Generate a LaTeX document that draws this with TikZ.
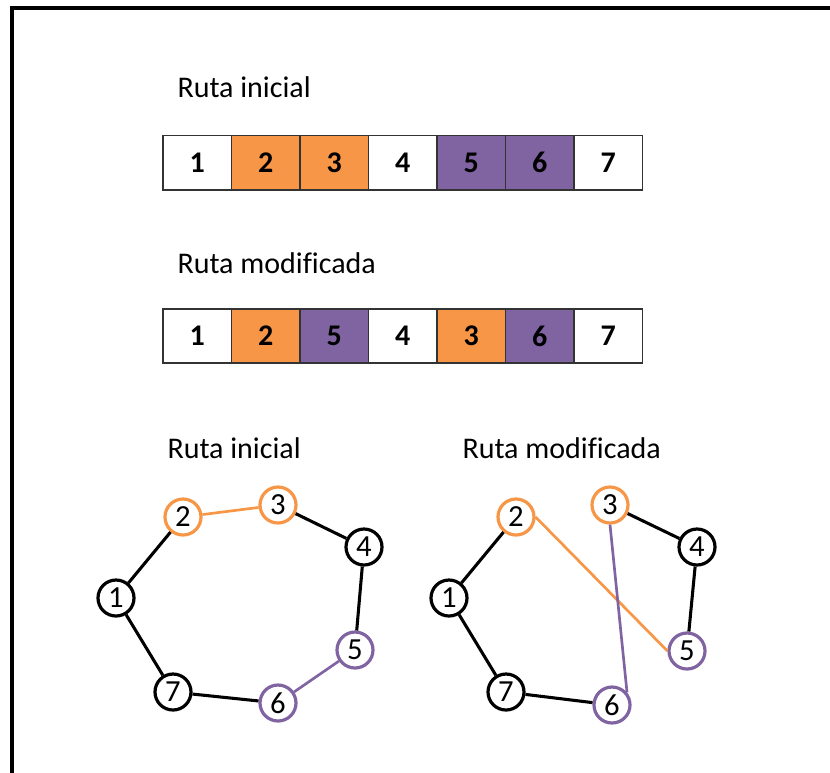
\documentclass[tikz,border=0pt]{standalone}
\usepackage{fontspec}
\setmainfont{Carlito}[Ligatures=NoCommon]

\definecolor{naranja}{RGB}{247,150,70}
\definecolor{morado}{RGB}{128,100,162}

\tikzset{every picture/.style={line width=0.75pt}}
\tikzset{
  celda/.style={draw=black!80, line width=1.2pt, minimum width=51.4pt, minimum height=40.8pt, inner sep=0pt, font=\fontsize{22.5}{27}\selectfont\bfseries},
  nodo/.style={circle, draw, line width=2.4pt, minimum size=27pt, inner sep=0pt, fill=white, font=\fontsize{23}{27}\selectfont},
  arista/.style={line width=2.3pt},
  titulo/.style={anchor=base west, inner sep=0pt, font=\fontsize{22.5}{27}\selectfont},
}

\begin{document}
\begin{tikzpicture}[x=0.75pt,y=0.75pt,yscale=-1,xscale=1]
\useasboundingbox (0,0) rectangle (830,772);

%Frame
\draw [line width=2.3pt] (12,775) -- (12,8) -- (833,8) ;

% Text Node
\node [titulo] (t1) at (177,97) {Ruta inicial};
% Text Node
\node [titulo] (t2) at (177,273) {Ruta modificada};
% Text Node
\node [titulo] (t3) at (167,458) {Ruta inicial};
% Text Node
\node [titulo] (t4) at (462,458) {Ruta modificada};

%Shape: Rectangle (ruta inicial)
\node [celda] (a1) at (197.25,162.5) {1};
\node [celda, fill=naranja] (a2) at (265.75,162.5) {2};
\node [celda, fill=naranja] (a3) at (334.25,162.5) {3};
\node [celda] (a4) at (402.75,162.5) {4};
\node [celda, fill=morado] (a5) at (471.25,162.5) {5};
\node [celda, fill=morado] (a6) at (539.75,162.5) {6};
\node [celda] (a7) at (608.25,162.5) {7};

%Shape: Rectangle (ruta modificada)
\node [celda] (b1) at (197.25,336) {1};
\node [celda, fill=naranja] (b2) at (265.75,336) {2};
\node [celda, fill=morado] (b3) at (334.25,336) {5};
\node [celda] (b4) at (402.75,336) {4};
\node [celda, fill=naranja] (b5) at (471.25,336) {3};
\node [celda, fill=morado] (b6) at (539.75,336) {6};
\node [celda] (b7) at (608.25,336) {7};

%Shape: Circle (grafo inicial)
\node [nodo] (p1) at (116,598) {1};
\node [nodo, draw=naranja] (p2) at (183,517) {2};
\node [nodo, draw=naranja] (p3) at (278,505) {3};
\node [nodo] (p4) at (364,547) {4};
\node [nodo, draw=morado] (p5) at (355,650) {5};
\node [nodo, draw=morado] (p6) at (278,703) {6};
\node [nodo] (p7) at (173,692) {7};

%Shape: Circle (grafo modificado)
\node [nodo] (q1) at (449,598) {1};
\node [nodo, draw=naranja] (q2) at (516,517) {2};
\node [nodo, draw=naranja] (q3) at (610,505) {3};
\node [nodo] (q4) at (697,547) {4};
\node [nodo, draw=morado] (q5) at (687,651) {5};
\node [nodo, draw=morado] (q6) at (612,705) {6};
\node [nodo] (q7) at (506,692) {7};

%Straight Lines
\draw [arista] (p1) -- (p2) ;
\draw [arista, naranja, line width=2pt] (p2) -- (p3) ;
\draw [arista] (p3) -- (p4) ;
\draw [arista] (p4) -- (p5) ;
\draw [arista, morado, line width=2pt] (p5) -- (p6) ;
\draw [arista] (p6) -- (p7) ;
\draw [arista] (p7) -- (p1) ;

%Straight Lines
\draw [arista] (q1) -- (q2) ;
\draw [arista, naranja, line width=2pt] (q2.east) -- (q5.west) ;
\draw [arista, morado, line width=2pt] (q3.south) -- (q6.40) ;
\draw [arista] (q3) -- (q4) ;
\draw [arista] (q4) -- (q5) ;
\draw [arista] (q6) -- (q7) ;
\draw [arista] (q7) -- (q1) ;

\end{tikzpicture}
\end{document}
